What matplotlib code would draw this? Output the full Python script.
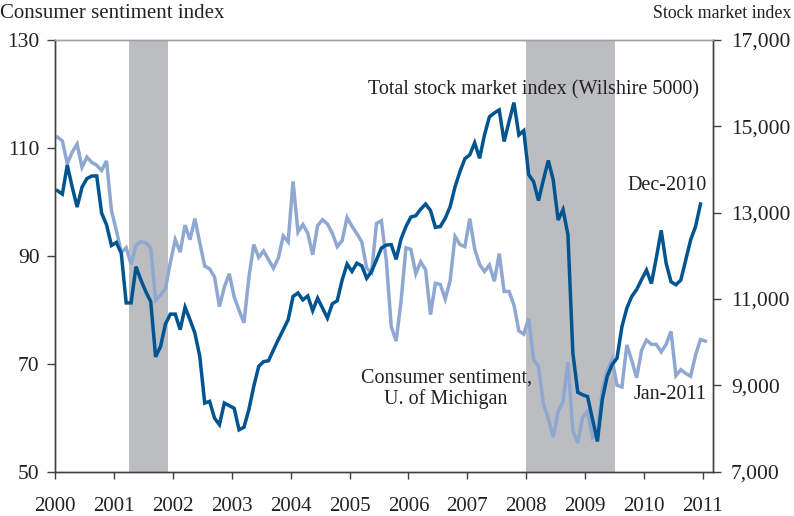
import matplotlib
matplotlib.use("Agg")
import matplotlib.pyplot as plt
import numpy as np

plt.rcParams['font.family'] = ['Liberation Serif', 'DejaVu Serif']

# Consumer sentiment, U. of Michigan, monthly Jan-2000 .. Jan-2011
sentiment = [
    112.0, 111.3, 107.1, 109.2, 110.7, 106.4, 108.3, 107.3, 106.8, 105.8, 107.6, 98.4,
    94.7, 90.6, 91.5, 88.4, 92.0, 92.6, 92.4, 91.5, 81.8, 82.7, 83.9, 88.8,
    93.0, 90.7, 95.7, 93.0, 96.9, 92.4, 88.1, 87.6, 86.1, 80.6, 84.2, 86.7,
    82.4, 79.9, 77.6, 86.0, 92.1, 89.7, 90.9, 89.3, 87.7, 89.6, 93.7, 92.6,
    103.8, 94.4, 95.8, 94.2, 90.2, 95.6, 96.7, 95.9, 94.2, 91.7, 92.8, 97.1,
    95.5, 94.1, 92.6, 87.7, 86.9, 96.0, 96.5, 89.1, 76.9, 74.2, 81.6, 91.5,
    91.2, 86.7, 88.9, 87.4, 79.1, 84.9, 84.7, 82.0, 85.4, 93.6, 92.1, 91.7,
    96.9, 91.3, 88.4, 87.1, 88.3, 85.3, 90.4, 83.4, 83.4, 80.9, 76.1, 75.5,
    78.4, 70.8, 69.5, 62.6, 59.8, 56.4, 61.2, 63.0, 70.3, 57.6, 55.3, 60.1,
    61.2, 56.3, 57.3, 65.1, 68.7, 70.8, 66.0, 65.7, 73.5, 70.6, 67.4, 72.5,
    74.4, 73.6, 73.6, 72.2, 73.6, 76.0, 67.8, 68.9, 68.2, 67.7, 71.6, 74.5,
    74.2,
]

# Wilshire 5000 total stock market index, monthly Jan-2000 .. Dec-2010
wilshire = [
    13510, 13430, 14100, 13600, 13130, 13590, 13790, 13850, 13850, 12990, 12720, 12240,
    12310, 12060, 10910, 10910, 11750, 11440, 11170, 10940, 9660, 9900, 10420, 10650,
    10650, 10290, 10810, 10520, 10210, 9670, 8590, 8630, 8240, 8090, 8590, 8530,
    8470, 7970, 8030, 8440, 8980, 9440, 9550, 9570, 9820, 10060, 10290, 10520,
    11060, 11140, 10980, 11070, 10730, 11020, 10790, 10560, 10890, 10960, 11440, 11810,
    11640, 11830, 11770, 11480, 11640, 11910, 12180, 12250, 12260, 11920, 12390, 12680,
    12900, 12930, 13080, 13200, 13050, 12660, 12680, 12870, 13140, 13600, 13950, 14250,
    14340, 14620, 14260, 14800, 15220, 15310, 15380, 14650, 15110, 15550, 14800, 14900,
    13880, 13720, 13280, 13760, 14210, 13760, 12830, 13070, 12490, 9750, 8840, 8780,
    8740, 8220, 7700, 8670, 9210, 9480, 9630, 10360, 10790, 11060, 11220, 11450,
    11670, 11360, 11950, 12590, 11830, 11400, 11330, 11440, 11910, 12370, 12680, 13200,
]

recessions = [(2001.25, 2001.92), (2008.0, 2009.5)]
year_ticks = list(range(2000, 2012))
left_ticks = [50, 70, 90, 110, 130]
right_ticks = [7000, 9000, 11000, 13000, 15000, 17000]

dark = "#00548f"
light = "#8ea8d2"
shade = "#bcbdc1"

t_sent = 2000 + (np.arange(len(sentiment)) + 0.5) / 12
t_wil = 2000 + (np.arange(len(wilshire)) + 0.5) / 12

fig = plt.figure(figsize=(7.94, 5.16), dpi=100)
ax = fig.add_axes([55/794, 1-471.7/516, (712.7-55)/794, (471.7-40)/516])
ax2 = ax.twinx()

for a, b in recessions:
    ax.axvspan(a, b, color=shade, lw=0, zorder=0)

ax.plot(t_sent, sentiment, color=light, lw=2.5, zorder=3, solid_joinstyle='miter')
ax2.plot(t_wil, wilshire, color=dark, lw=2.5, zorder=3, solid_joinstyle='miter')

ax.set_xlim(2000, 2011.166)
ax.set_ylim(50, 130)
ax2.set_ylim(7000, 17000)
ax.set_xticks(year_ticks)
ax.set_xticklabels([str(y) for y in year_ticks])
ax.set_yticks(left_ticks)
ax.set_yticklabels([str(v) for v in left_ticks])
ax2.set_yticks(right_ticks)
ax2.set_yticklabels([f"{v:,}" for v in right_ticks])

for a in (ax, ax2):
    for s in a.spines.values():
        s.set_color("#404040")
        s.set_linewidth(1.0)
    a.spines['top'].set_color("#a0a0a0")
    a.tick_params(colors="#404040", labelcolor="#222222", width=1.0)
ax.tick_params(axis='x', direction='out', length=5, pad=13, labelsize=15)
ax.tick_params(axis='y', direction='out', length=6, pad=5, labelsize=15.5)
ax2.tick_params(axis='y', direction='out', length=6, pad=7, labelsize=15.5)

fig.text(0.0, 1-14/516, "Consumer sentiment index", fontsize=15, color="#222222",
         ha='left', va='center')
fig.text(791/794, 1-14/516, "Stock market index", fontsize=12.8, color="#222222",
         ha='right', va='center')

ax.text(2008.12, 120.7, "Total stock market index (Wilshire 5000)", fontsize=14.5,
        color="#222222", ha='center', va='center')
ax.text(2011.06, 103.0, "Dec-2010", fontsize=14.5, color="#222222", ha='right', va='center')
ax.text(2006.64, 65.4, "Consumer sentiment,\nU. of Michigan", fontsize=14.5, color="#222222",
        ha='center', va='center', linespacing=1.1)
ax.text(2011.06, 64.3, "Jan-2011", fontsize=14.5, color="#222222", ha='right', va='center')

fig.savefig("out.png", dpi=100)
